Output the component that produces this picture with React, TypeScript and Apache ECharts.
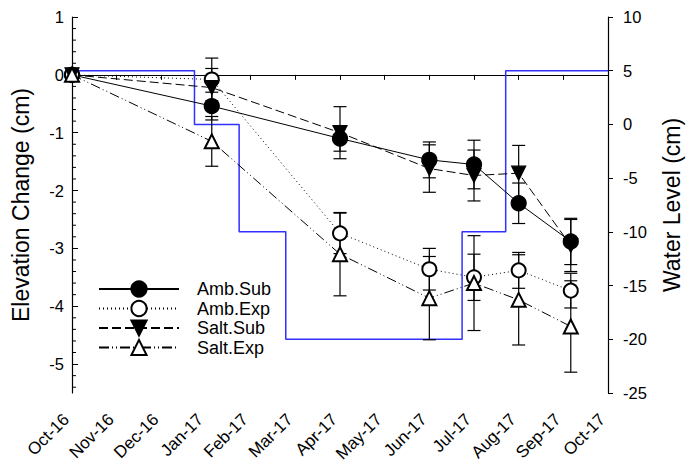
import React, { useEffect, useRef } from 'react';
import * as echarts from 'echarts';

// ---------- data ----------
const monthLabels = [
  'Oct-16', 'Nov-16', 'Dec-16', 'Jan-17', 'Feb-17', 'Mar-17', 'Apr-17',
  'May-17', 'Jun-17', 'Jul-17', 'Aug-17', 'Sep-17', 'Oct-17',
];
const sampleDates = ['2016-10-01', '2017-01-05', '2017-04-01', '2017-06-01', '2017-07-01', '2017-08-01', '2017-09-06'];

const ambSub = [0, -0.54, -1.1, -1.47, -1.55, -2.22, -2.88];
const ambSubErr = [0, 0.24, 0.22, 0.31, 0.42, 0.35, 0.4];
const ambExp = [0, -0.08, -2.74, -3.36, -3.5, -3.38, -3.73];
const ambExpErr = [0, 0.37, 0.35, 0.36, 0.4, 0.31, 0.3];
const saltSub = [0, -0.22, -1.0, -1.62, -1.74, -1.7, -2.95];
const saltSubErr = [0, 0.33, 0.45, 0.41, 0.44, 0.48, 0.45];
const saltExp = [0, -1.15, -3.1, -3.86, -3.6, -3.89, -4.35];
const saltExpErr = [0, 0.43, 0.72, 0.72, 0.82, 0.78, 0.79];

const waterDates = ['2016-10-01', '2016-12-24', '2017-01-24', '2017-02-23', '2017-06-23', '2017-07-23', '2017-10-01'];
const waterLevel = [5, 0, -10, -20, -10, 5, 5];

const elevTicks = [-5, -4, -3, -2, -1, 0, 1];

// ---------- helpers ----------
function monthPos(d: string): number {
  const [y, m, day] = d.split('-').map(Number);
  const idx = (y - 2016) * 12 + (m - 10);
  const dim = new Date(y, m, 0).getDate();
  return idx + (day - 1) / dim;
}
const xs = sampleDates.map(monthPos);

const minorTicks: number[] = [];
for (let i = -27; i <= 4; i++) {
  const v = Math.round(i * 0.2 * 10) / 10;
  if (Math.abs(v - Math.round(v)) > 1e-6) minorTicks.push(v);
}

const FONT = 'Liberation Sans, Arial, Helvetica, sans-serif';

function errData(vals: number[], errs: number[]) {
  const out: number[][] = [];
  vals.forEach((v, i) => {
    if (errs[i] > 0) out.push([xs[i], v - errs[i], v + errs[i]]);
  });
  return out;
}

function errRender(params: any, api: any) {
  const x = api.value(0);
  const lo = api.coord([x, api.value(1)]);
  const hi = api.coord([x, api.value(2)]);
  const w = 6.5;
  const style = { stroke: '#000', lineWidth: 1.2 };
  return {
    type: 'group',
    children: [
      { type: 'line', shape: { x1: lo[0], y1: lo[1], x2: hi[0], y2: hi[1] }, style },
      { type: 'line', shape: { x1: lo[0] - w, y1: lo[1], x2: lo[0] + w, y2: lo[1] }, style },
      { type: 'line', shape: { x1: hi[0] - w, y1: hi[1], x2: hi[0] + w, y2: hi[1] }, style },
    ],
  };
}

function minorTickRender(params: any, api: any) {
  const p = api.coord([api.value(0), api.value(1)]);
  return {
    type: 'line',
    shape: { x1: p[0], y1: p[1], x2: p[0] + 4, y2: p[1] },
    style: { stroke: '#000', lineWidth: 1 },
  };
}

function pts(vals: number[]) {
  return vals.map((v, i) => [xs[i], v]);
}

export default function App() {
  const ref = useRef<HTMLDivElement>(null);
  useEffect(() => {
    if (!ref.current) return;
    const chart = echarts.init(ref.current, null, { renderer: 'svg' });
    const lineSeries = (name: string, vals: number[], symbol: string, dash: any, rotate = 0, size = 14) => ({
      name,
      type: 'line',
      xAxisIndex: 0,
      yAxisIndex: 0,
      data: pts(vals),
      symbol,
      symbolSize: size,
      symbolRotate: rotate,
      clip: false,
      z: 5,
      lineStyle: { color: '#000', width: 1, type: dash },
      itemStyle: { color: '#000', borderColor: '#000', borderWidth: 1.2 },
    });
    const errSeries = (vals: number[], errs: number[]) => ({
      type: 'custom',
      xAxisIndex: 0,
      yAxisIndex: 0,
      data: errData(vals, errs),
      renderItem: errRender,
      encode: { x: 0, y: [1, 2] },
      clip: false,
      z: 3,
      silent: true,
    });
    chart.setOption({
      animation: false,
      backgroundColor: '#fff',
      textStyle: { fontFamily: FONT },
      grid: { left: 72, right: 79, top: 17, bottom: 70, containLabel: false, outerBoundsMode: 'none' },
      legend: {
        orient: 'vertical',
        left: 98,
        top: 280,
        padding: 0,
        itemWidth: 80,
        itemHeight: 19,
        itemGap: 1.5,
        data: ['Amb.Sub', 'Amb.Exp', 'Salt.Sub', 'Salt.Exp'],
        textStyle: { fontSize: 18, color: '#000', fontFamily: FONT, padding: [0, 0, 0, 13] },
      },
      xAxis: [
        {
          type: 'value',
          min: 0,
          max: 12,
          interval: 1,
          splitLine: { show: false },
          axisLine: { lineStyle: { color: '#000', width: 1.2 } },
          axisTick: { inside: false, length: 5, lineStyle: { color: '#000' } },
          axisLabel: {
            rotate: 45,
            margin: 18,
            padding: [0, 8, 0, 0],
            fontSize: 17,
            color: '#000',
            fontFamily: FONT,
            formatter: (v: number) => monthLabels[Math.round(v)] ?? '',
          },
        },
      ],
      yAxis: [
        {
          type: 'value',
          min: -5.5,
          max: 1,
          position: 'left',
          name: 'Elevation Change (cm)',
          nameLocation: 'middle',
          nameRotate: 90,
          nameGap: 40,
          nameTextStyle: { fontSize: 23, color: '#000', fontFamily: FONT },
          splitLine: { show: false },
          axisLine: { show: true, lineStyle: { color: '#000', width: 1.2 } },
          axisTick: { show: true, inside: true, length: 6, customValues: elevTicks, lineStyle: { color: '#000' } },
          axisLabel: { customValues: elevTicks, margin: 8, fontSize: 16.5, color: '#000', fontFamily: FONT },
        },
        {
          type: 'value',
          min: -25,
          max: 10,
          interval: 5,
          position: 'right',
          name: 'Water Level (cm)',
          nameLocation: 'middle',
          nameRotate: 90,
          nameGap: 52,
          nameTextStyle: { fontSize: 23, color: '#000', fontFamily: FONT },
          splitLine: { show: false },
          axisLine: { show: true, lineStyle: { color: '#000', width: 1.2 } },
          axisTick: { show: true, inside: false, length: 5, lineStyle: { color: '#000' } },
          axisLabel: { margin: 15, fontSize: 16.5, color: '#000', fontFamily: FONT },
        },
      ],
      series: [
        {
          name: 'Water',
          type: 'line',
          xAxisIndex: 0,
          yAxisIndex: 1,
          step: 'end',
          data: waterDates.map((d, i) => [monthPos(d), waterLevel[i]]),
          symbol: 'none',
          lineStyle: { color: '#3030ff', width: 1.5 },
          z: 2,
          clip: false,
        },
        {
          type: 'custom',
          xAxisIndex: 0,
          yAxisIndex: 0,
          data: minorTicks.map((v) => [0, v]),
          renderItem: minorTickRender,
          encode: { x: 0, y: 1 },
          clip: false,
          z: 1,
          silent: true,
        },
        errSeries(ambSub, ambSubErr),
        errSeries(ambExp, ambExpErr),
        errSeries(saltSub, saltSubErr),
        errSeries(saltExp, saltExpErr),
        lineSeries('Amb.Sub', ambSub, 'circle', 'solid', 0, 15),
        lineSeries('Amb.Exp', ambExp, 'emptyCircle', [1, 3], 0, 14),
        lineSeries('Salt.Sub', saltSub, 'triangle', [9, 4], 180, 14),
        lineSeries('Salt.Exp', saltExp, 'emptyTriangle', [10, 3, 1, 3, 1, 3], 0, 14),
      ],
    });
    return () => chart.dispose();
  }, []);
  return (
    <div
      ref={ref}
      style={{ position: 'fixed', left: 0, top: 0, width: 687, height: 463, background: '#fff' }}
    />
  );
}
